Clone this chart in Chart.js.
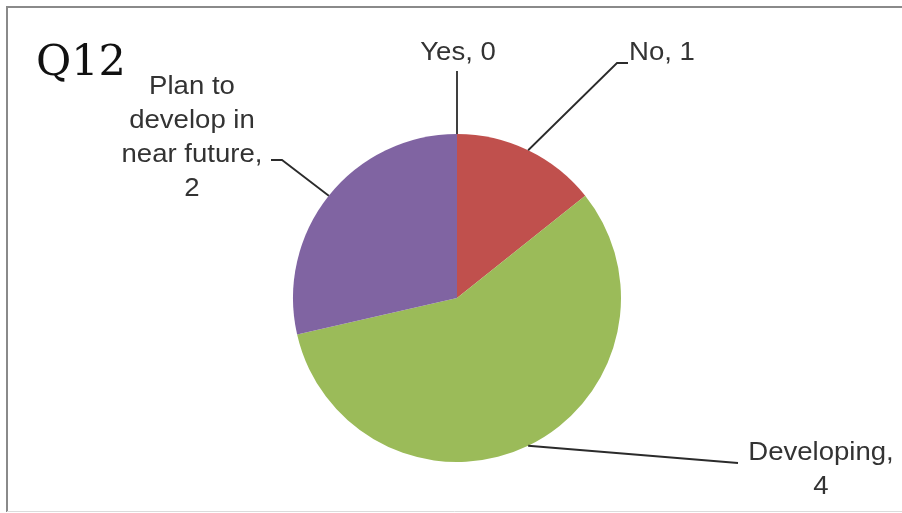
<!DOCTYPE html>
<html>
<head>
<meta charset="utf-8">
<script src="https://cdn.jsdelivr.net/npm/chart.js@4.4.1/dist/chart.umd.min.js"></script>
<style>
  html, body { margin: 0; padding: 0; background: #fff; }
  #wrap { width: 902px; height: 513px; }
</style>
</head>
<body>
<div id="wrap"><canvas id="pieCanvas" width="902" height="513"></canvas></div>
<script>
// --- data ---
const chartTitle = 'Q12';
const categories = ['Yes', 'No', 'Developing', 'Plan to develop in near future'];
const counts = [0, 1, 4, 2];
const sliceColors = ['#4F81BD', '#C0504D', '#9BBB59', '#8064A2'];

// label placement (text anchor + elbow points of leader line), same order as categories
const labelSpots = [
  { x: 458, y: 53, wrap: 200, path: [[457, 71]] },
  { x: 662, y: 53, wrap: 200, path: [[617, 63], [628, 63]] },
  { x: 821, y: 453, wrap: 150, path: [[738, 463]] },
  { x: 192, y: 87, wrap: 145, path: [[282, 160], [271, 160]] }
];

const LABEL_FONT = '26px "Liberation Sans", Arial, sans-serif';
const LINE_GAP = 34;

function wrapWords(ctx, text, maxWidth) {
  const words = text.split(' ');
  const lines = [];
  let cur = '';
  words.forEach(w => {
    const test = cur ? cur + ' ' + w : w;
    if (cur && ctx.measureText(test).width > maxWidth) {
      lines.push(cur);
      cur = w;
    } else {
      cur = test;
    }
  });
  if (cur) lines.push(cur);
  return lines;
}

// frame + title + leader lines + labels
const decorPlugin = {
  id: 'decor',
  beforeDraw(chart) {
    const c = chart.ctx;
    c.save();
    c.fillStyle = '#fff';
    c.fillRect(0, 0, chart.width, chart.height);
    c.strokeStyle = '#8a8a8a';
    c.lineWidth = 2;
    c.beginPath();
    c.moveTo(7, 512);
    c.lineTo(7, 7);
    c.lineTo(chart.width, 7);
    c.stroke();
    c.strokeStyle = '#dcdcdc';
    c.lineWidth = 1;
    c.beginPath();
    c.moveTo(7, 511.5);
    c.lineTo(chart.width, 511.5);
    c.stroke();
    c.restore();
  },
  afterDraw(chart) {
    const c = chart.ctx;
    const arcs = chart.getDatasetMeta(0).data;
    c.save();

    // title
    c.fillStyle = '#111';
    c.font = '43px "DejaVu Serif", serif';
    c.textAlign = 'left';
    c.textBaseline = 'alphabetic';
    c.fillText(chartTitle, 36, 75);

    arcs.forEach((arc, i) => {
      const spot = labelSpots[i];
      const mid = (arc.startAngle + arc.endAngle) / 2;
      const ax = arc.x + Math.cos(mid) * arc.outerRadius;
      const ay = arc.y + Math.sin(mid) * arc.outerRadius;

      // leader line
      c.strokeStyle = '#2b2b2b';
      c.lineWidth = 1.8;
      c.beginPath();
      c.moveTo(ax, ay);
      spot.path.forEach(p => c.lineTo(p[0], p[1]));
      c.stroke();

      // label text
      c.font = LABEL_FONT;
      c.fillStyle = '#333';
      c.textAlign = 'center';
      c.textBaseline = 'middle';
      const lines = wrapWords(c, categories[i] + ', ' + counts[i], spot.wrap);
      lines.forEach((ln, k) => {
        c.save();
        c.translate(spot.x, spot.y + k * LINE_GAP);
        c.scale(1.06, 1);
        c.fillText(ln, 0, 0);
        c.restore();
      });
    });
    c.restore();
  }
};

const ctx = document.getElementById('pieCanvas').getContext('2d');
new Chart(ctx, {
  type: 'pie',
  data: {
    labels: categories,
    datasets: [{
      data: counts,
      backgroundColor: sliceColors,
      borderWidth: 0,
      hoverOffset: 0,
      offset: 0
    }]
  },
  options: {
    responsive: false,
    animation: false,
    events: [],
    layout: { padding: { left: 12, right: 0, top: 134, bottom: 51 } },
    plugins: {
      legend: { display: false },
      tooltip: { enabled: false },
      title: { display: false }
    }
  },
  plugins: [decorPlugin]
});
</script>
</body>
</html>
